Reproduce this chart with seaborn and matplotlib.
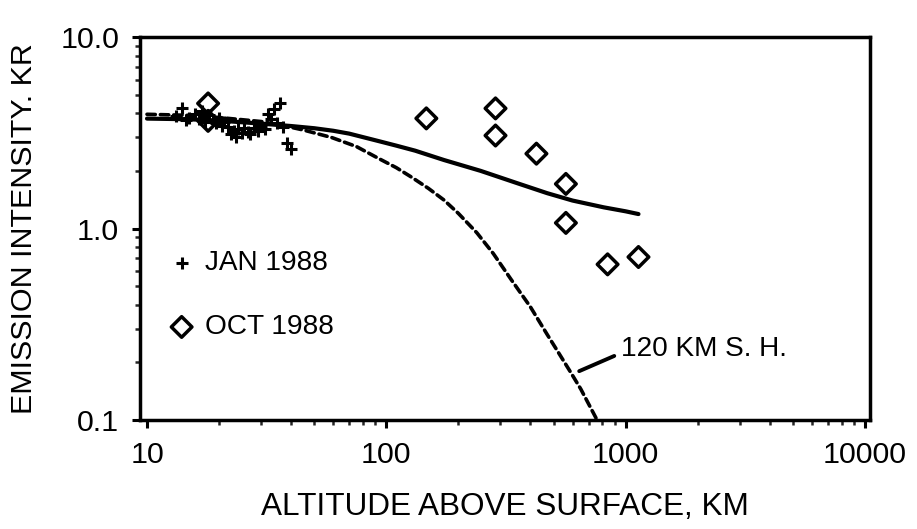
import matplotlib
matplotlib.use("Agg")
import matplotlib.pyplot as plt
import seaborn as sns
import pandas as pd
from matplotlib import font_manager
from matplotlib.ticker import FixedLocator, FixedFormatter, LogLocator, NullFormatter

# January 1988 observations: altitude (km) and emission intensity (kR)
jan_alt = [13.2, 14.0, 14.5, 15.0, 15.8, 16.5, 17.0, 17.5, 18.2, 18.8, 19.5, 20.0,
           20.5, 21.0, 21.8, 22.5, 23.0, 23.5, 24.0, 25.0, 25.5, 26.5, 27.0, 28.0,
           29.0, 30.0, 31.0, 32.0, 33.0, 34.0, 35.0, 36.0, 37.0, 38.5, 40.0]
jan_int = [3.85, 4.25, 3.70, 3.80, 3.95, 3.75, 4.10, 3.60, 3.90, 3.70, 3.55, 3.80,
           3.45, 3.60, 3.40, 3.10, 3.25, 3.00, 3.30, 3.15, 3.35, 3.20, 3.10, 3.35,
           3.25, 3.45, 3.30, 3.95, 3.75, 4.20, 3.55, 4.55, 3.40, 2.80, 2.60]

# October 1988 observations
oct_alt = [18, 18, 147, 286, 286, 424, 563, 563, 841, 1132]
oct_int = [4.5, 3.65, 3.76, 4.24, 3.06, 2.46, 1.71, 1.07, 0.65, 0.71]

# Model profile (solid curve)
model_alt = [10, 15, 20, 30, 40, 50, 60, 70, 80, 93, 110, 132, 174, 248,
             350, 470, 600, 811, 1000, 1132]
model_int = [3.75, 3.72, 3.66, 3.53, 3.43, 3.34, 3.24, 3.13, 3.00, 2.86, 2.71, 2.55,
             2.28, 2.00, 1.73, 1.53, 1.40, 1.29, 1.23, 1.19]

# 120 km scale-height profile (dashed curve)
sh_alt = [10, 15, 20, 30, 37, 45, 59, 75, 93, 110, 127, 150, 174, 200, 239,
          280, 333, 400, 470, 530, 587, 650, 760]
sh_int = [3.95, 3.90, 3.80, 3.62, 3.45, 3.27, 2.99, 2.68, 2.32, 2.08, 1.86, 1.62,
          1.41, 1.20, 0.95, 0.74, 0.54, 0.39, 0.28, 0.22, 0.179, 0.145, 0.1]

x_ticks = [10, 100, 1000, 10000]
x_tick_labels = ["10", "100", "1000", "10000"]
y_ticks = [0.1, 1.0, 10.0]
y_tick_labels = ["0.1", "1.0", "10.0"]

sns.set_theme(style="ticks")
installed = {f.name for f in font_manager.fontManager.ttflist}
if "Liberation Sans Narrow" in installed:
    family, k = "Liberation Sans Narrow", 1.0
else:
    family, k = "Liberation Sans", 0.84
plt.rcParams["font.family"] = [family, "DejaVu Sans"]

fig = plt.figure(figsize=(9.17, 5.29), dpi=100)
ax = fig.add_axes([0.1527, 0.206, 0.796, 0.724])

model_df = pd.DataFrame({"alt": model_alt, "inten": model_int})
sh_df = pd.DataFrame({"alt": sh_alt, "inten": sh_int})
jan_df = pd.DataFrame({"alt": jan_alt, "inten": jan_int})
oct_df = pd.DataFrame({"alt": oct_alt, "inten": oct_int})

sns.lineplot(data=model_df, x="alt", y="inten", ax=ax, color="black", lw=3.0,
             sort=False, estimator=None, solid_capstyle="round",
             solid_joinstyle="round")
sns.lineplot(data=sh_df, x="alt", y="inten", ax=ax, color="black", lw=2.6,
             sort=False, estimator=None, dashes=False,
             linestyle=(0, (2.3, 1.4)), dash_capstyle="round")
sns.scatterplot(data=jan_df, x="alt", y="inten", ax=ax, marker="+", s=75,
                color="black", linewidth=2.2, zorder=4)
sns.scatterplot(data=oct_df, x="alt", y="inten", ax=ax, marker="D", s=110,
                facecolor="none", edgecolor="black", linewidth=2.5, zorder=5)

ax.set_xscale("log")
ax.set_yscale("log")
ax.set_xlim(9.35, 10500)
ax.set_ylim(0.1, 10)

ax.xaxis.set_major_locator(FixedLocator(x_ticks))
ax.xaxis.set_major_formatter(FixedFormatter(x_tick_labels))
ax.yaxis.set_major_locator(FixedLocator(y_ticks))
ax.yaxis.set_major_formatter(FixedFormatter(y_tick_labels))
ax.xaxis.set_minor_locator(LogLocator(base=10, subs=range(2, 10)))
ax.yaxis.set_minor_locator(LogLocator(base=10, subs=range(2, 10)))
ax.xaxis.set_minor_formatter(NullFormatter())
ax.yaxis.set_minor_formatter(NullFormatter())

ax.tick_params(which="major", direction="out", length=6, width=2.2,
               labelsize=26 * k, pad=9, color="black", labelcolor="black",
               top=False, right=False)
ax.tick_params(which="minor", direction="out", length=3.5, width=1.8,
               top=False, right=False)
for side in ["left", "right", "top", "bottom"]:
    ax.spines[side].set_visible(True)
    ax.spines[side].set_linewidth(2.5)
    ax.spines[side].set_color("black")

ax.set_xlabel("ALTITUDE ABOVE SURFACE, KM", fontsize=27 * k, color="black", labelpad=17)
ax.set_ylabel("EMISSION INTENSITY. KR", fontsize=26 * k, color="black", labelpad=16)

# Key for the two observation sets
ax.scatter([0.058], [0.41], transform=ax.transAxes, marker="+", s=75,
           color="black", linewidths=2.2)
ax.text(0.089, 0.41, "JAN 1988", transform=ax.transAxes, fontsize=24 * k,
        va="center", ha="left", color="black")
ax.scatter([0.057], [0.243], transform=ax.transAxes, marker="D", s=110,
           facecolors="none", edgecolors="black", linewidths=2.5)
ax.text(0.089, 0.243, "OCT 1988", transform=ax.transAxes, fontsize=24 * k,
        va="center", ha="left", color="black")

ax.annotate("120 KM S. H.", xy=(640, 0.18), xytext=(960, 0.235),
            fontsize=24 * k, va="center", ha="left", color="black",
            arrowprops=dict(arrowstyle="-", lw=2.8, color="black",
                            relpos=(0, 0.35), shrinkA=3, shrinkB=0))

ax.grid(False)
fig.savefig("out.png", dpi=100, facecolor="white")
